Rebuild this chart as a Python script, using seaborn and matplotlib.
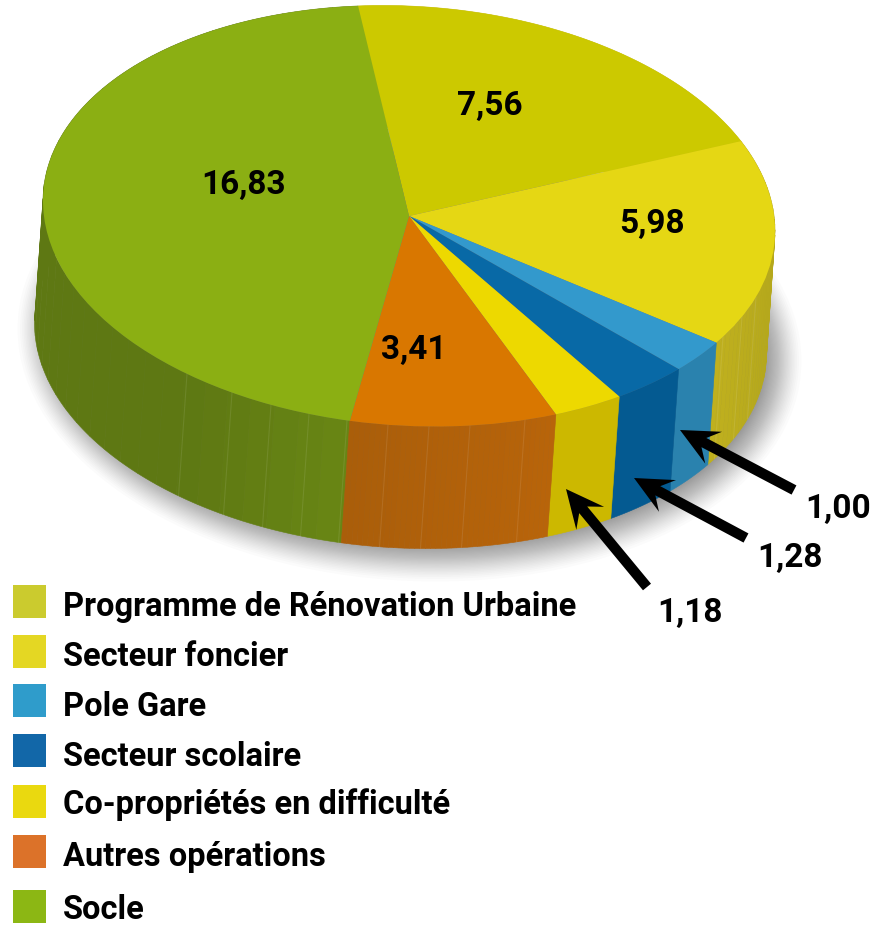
import numpy as np
import matplotlib
matplotlib.use("Agg")
import matplotlib.pyplot as plt
from matplotlib.patches import Ellipse, Polygon, Rectangle
from matplotlib.colors import to_rgb
from matplotlib.transforms import Affine2D
import seaborn as sns

categories = ["Programme de Rénovation Urbaine", "Secteur foncier", "Pole Gare",
              "Secteur scolaire", "Co-propriétés en difficulté", "Autres opérations", "Socle"]
values = [7.56, 5.98, 1.00, 1.28, 1.18, 3.41, 16.83]
value_labels = ["7,56", "5,98", "1,00", "1,28", "1,18", "3,41", "16,83"]

top_colors = ["#CCC900", "#E5D714", "#3399CC", "#0869A6", "#EDD900", "#D97700", "#8BAF13"]
side_left = ["#C8BE10", "#BFB01E", "#2A82AE", "#045A91", "#CCB800", "#AA5E0A", "#5E7813"]
side_right = ["#C8BE10", "#B5A81C", "#2A82AE", "#045A91", "#CCB800", "#B8640A", "#6A8814"]
legend_colors = ["#CBCB2E", "#E4D723", "#2F9CCB", "#1267A8", "#EAD90F", "#DC7229", "#8CB714"]

W, H = 875, 926
CX, CY, RX, RY = 409.0, 216.0, 366.0, 210.0
TILT = -15.0 / RY            # the ellipse leans: left end up, right end down
DX, DY = -8.5, 122.0
START = 98.0
FONT = ["Roboto", "DejaVu Sans"]

sns.set_theme(style="white")
plt.rcParams["font.family"] = FONT
sns.set_palette(top_colors)

fig = plt.figure(figsize=(W / 100, H / 100), dpi=100)
ax = fig.add_axes([0, 0, 1, 1])


def dx(px):
    return (np.asarray(px, float) - CX) / RX


def dy(py):
    return (CY - np.asarray(py, float)) / RY


def pt(px, py):
    return float(dx(px)), float(dy(py))


wedges, _ = ax.pie(values, startangle=START, counterclock=False, colors=top_colors,
                   radius=1.0, center=(0, 0), wedgeprops=dict(linewidth=0), normalize=True)
ax.set_aspect("auto")
ax.set_xlim(dx(0), dx(W))
ax.set_ylim(dy(H), dy(0))
ax.axis("off")

lean = Affine2D.from_values(1, TILT, 0, 1, 0, 0)
for w in wedges:
    w.set_zorder(10)
    w.set_transform(lean + ax.transData)

# soft shadow under the disc
n_sh = 40
for i in range(n_sh):
    grow = 26 - 48 * (i / (n_sh - 1)) ** 0.8
    e = Ellipse(pt(CX + DX + 9, CY + DY + 7), width=2 * (RX + grow) / RX, height=2 * (RY + grow) / RY,
                facecolor="black", edgecolor="none", alpha=0.015, zorder=1)
    ax.add_patch(e)
    ctr = e.center
    e.set_transform(Affine2D().translate(-ctr[0], -ctr[1]) + lean + Affine2D().translate(ctr[0], ctr[1]) + ax.transData)

# side wall, from the same slice angles
shift = (DX / RX, -DY / RY)
edges = START - np.cumsum([0] + values) / sum(values) * 360.0


def wall(a0, a1, n):
    ang = np.radians(np.linspace(a0, a1, n + 1))
    xs = np.cos(ang)
    ys = np.sin(ang) + TILT * xs
    top = np.column_stack([xs, ys])
    return np.vstack([top, top[::-1] + shift])


pieces = []
for k in range(len(values)):
    a0, a1 = edges[k], edges[k + 1]
    c0, c1 = np.array(to_rgb(side_left[k])), np.array(to_rgb(side_right[k]))
    steps = 1 if side_left[k] == side_right[k] else 40
    sub = np.linspace(a0, a1, steps + 1)
    for j in range(steps):
        mid = np.radians((sub[j] + sub[j + 1]) / 2)
        xm = np.cos(mid)
        ym = np.sin(mid) + TILT * xm
        if steps == 1:
            f = 0.0
        elif k == 6:
            f = np.clip((xm + 0.6) / 0.5, 0, 1)
        elif k == 5:
            f = np.clip((xm + 0.15) / 0.55, 0, 1)
        else:
            f = np.clip((xm - 0.85) / 0.15, 0, 1)
        n = max(3, int(abs(sub[j] - sub[j + 1])))
        pieces.append((ym, wall(sub[j], sub[j + 1], n), tuple(c0 + (c1 - c0) * f)))
pieces.sort(key=lambda t: -t[0])
for ym, verts, col in pieces:
    ax.add_patch(Polygon(verts, closed=True, facecolor=col, edgecolor=col, linewidth=0.4, zorder=5))

# faint seams on the side wall
seam_x = [187, 232, 271, 309, 347, 388, 429, 470, 525, 723, 742, 756]
for sx in seam_x:
    u = float(dx(sx))
    v = -np.sqrt(max(0, 1 - u * u)) + TILT * u
    ax.plot([u, u + shift[0]], [v, v + shift[1]], color="white", alpha=0.09, lw=0.8, zorder=6)

# value labels
label_pos = {"7,56": (490, 106), "16,83": (244, 185), "5,98": (652, 224), "3,41": (414, 350),
             "1,00": (838, 509), "1,28": (790, 558), "1,18": (690, 613)}
for lab in value_labels:
    x, y = label_pos[lab]
    ax.text(*pt(x, y), lab, ha="center", va="center", fontsize=24, fontweight="bold", color="black", zorder=20)

# arrows: straight shaft and a notched head
arrow_ends = [((794, 490), (680, 430)), ((746, 538), (634, 478)), ((647, 587), (566, 489))]
for (x0, y0), (x1, y1) in arrow_ends:
    d = np.array([x1 - x0, y1 - y0], float)
    L = np.hypot(*d)
    d /= L
    nrm = np.array([-d[1], d[0]])
    p1 = np.array([x1, y1], float)
    hl, nl, hw, sw = 38.0, 27.0, 18.0, 5.2
    poly = [np.array([x0, y0]) + nrm * sw, p1 - d * nl + nrm * sw, p1 - d * hl + nrm * hw, p1,
            p1 - d * hl - nrm * hw, p1 - d * nl - nrm * sw, np.array([x0, y0]) - nrm * sw]
    ax.add_patch(Polygon([pt(*q) for q in poly], closed=True, facecolor="black", edgecolor="none", zorder=15))

# legend
swatch_tops = [585, 635, 684, 734, 785, 835, 890]
text_mid = [607, 657, 707, 757, 805, 857, 910]
for name, col, top, mid in zip(categories, legend_colors, swatch_tops, text_mid):
    xa, ya = pt(13, top + 33)
    xb, yb = pt(46, top)
    ax.add_patch(Rectangle((xa, ya), xb - xa, yb - ya, facecolor=col, edgecolor="none", zorder=18))
    ax.text(*pt(63, mid), name, ha="left", va="center", fontsize=23.5, fontweight="bold", color="black", zorder=20)

fig.savefig("out.png", dpi=100, facecolor="white")
